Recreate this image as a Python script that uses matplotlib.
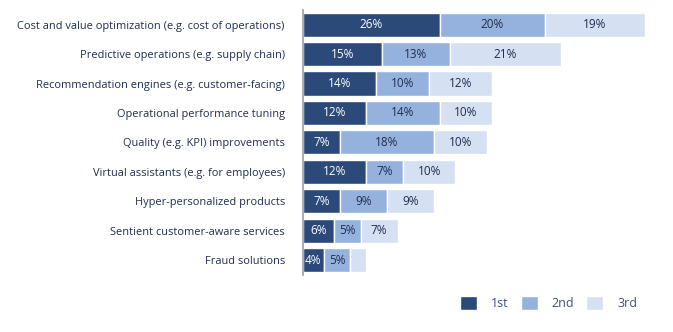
import matplotlib.pyplot as plt
import numpy as np

plt.rcParams['font.family'] = ['Open Sans', 'DejaVu Sans']

categories = [
    'Cost and value optimization (e.g. cost of operations)',
    'Predictive operations (e.g. supply chain)',
    'Recommendation engines (e.g. customer-facing)',
    'Operational performance tuning',
    'Quality (e.g. KPI) improvements',
    'Virtual assistants (e.g. for employees)',
    'Hyper-personalized products',
    'Sentient customer-aware services',
    'Fraud solutions',
]
first = [26, 15, 14, 12, 7, 12, 7, 6, 4]
second = [20, 13, 10, 14, 18, 7, 9, 5, 5]
third = [19, 21, 12, 10, 10, 10, 9, 7, 3]
series_names = ['1st', '2nd', '3rd']

colors = ['#2b4a7a', '#95b2de', '#d5e1f2']
text_dark = '#1f2d4d'

fig = plt.figure(figsize=(6.73, 3.32), dpi=100)
ax = fig.add_axes([0.450, 0.172, 0.508, 0.798])

y = np.arange(len(categories))
left = np.zeros(len(categories))
for vals, name, col in zip([first, second, third], series_names, colors):
    bars = ax.barh(y, vals, left=left, height=0.82, color=col,
                   edgecolor='white', linewidth=1, label=name)
    tc = 'white' if col == colors[0] else text_dark
    labels = ['' if (name == '3rd' and v < 4) else f'{v}%' for v in vals]
    ax.bar_label(bars, labels=labels, label_type='center', color=tc, fontsize=8.5)
    left += np.array(vals)

ax.set_xlim(0, 65)
ax.set_ylim(len(categories) - 0.5, -0.5)
ax.set_yticks(y)
ax.set_yticklabels(categories, fontsize=7.9, color=text_dark)
ax.tick_params(axis='y', length=0, pad=13)
ax.set_xticks([])
for s in ['top', 'right', 'bottom']:
    ax.spines[s].set_visible(False)
ax.spines['left'].set_color('#9a9ea6')
ax.spines['left'].set_linewidth(1.2)

leg = fig.legend(loc='center', bbox_to_anchor=(0.815, 0.088), ncol=3, frameon=False,
                 fontsize=9, handlelength=1.35, handleheight=1.35, handletextpad=1.1,
                 columnspacing=1.0, labelcolor='#3d5378')

fig.savefig('out.png', dpi=100)
